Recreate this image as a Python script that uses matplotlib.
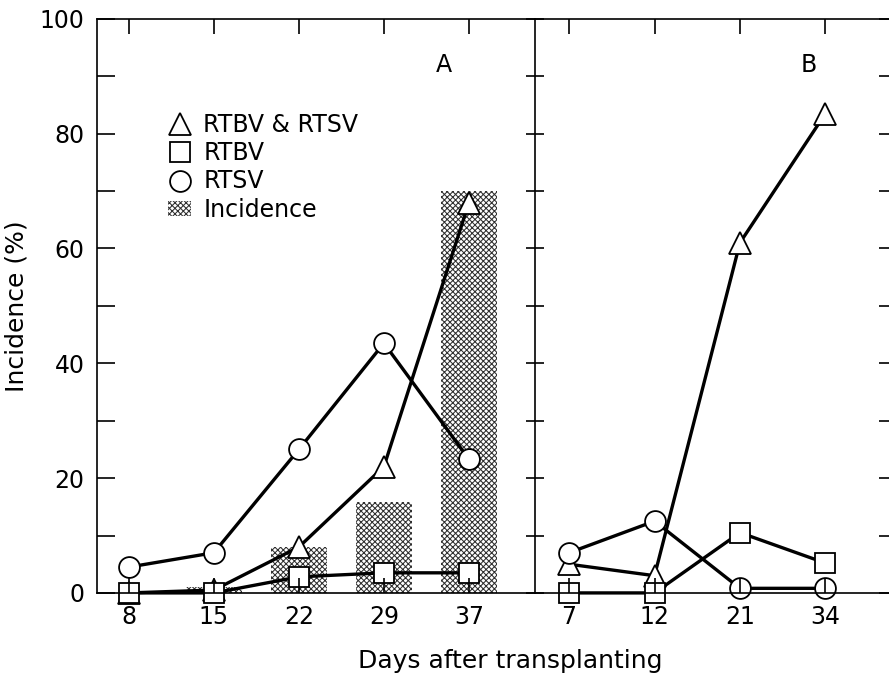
import matplotlib
matplotlib.use("Agg")
import matplotlib.pyplot as plt
from matplotlib.lines import Line2D
from matplotlib.patches import Patch

# panel A
days_a = ["8", "15", "22", "29", "37"]
both_a = [0, 0.5, 8, 22, 68]
rtbv_a = [0, 0, 2.8, 3.5, 3.5]
rtsv_a = [4.5, 7, 25, 43.5, 23.3]
incidence_a = [0, 1, 8, 15.8, 70]

# panel B
days_b = ["7", "12", "21", "34"]
both_b = [5, 3, 61, 83.5]
rtbv_b = [0, 0, 10.5, 5.2]
rtsv_b = [7, 12.5, 0.8, 0.8]

y_major = [0, 20, 40, 60, 80, 100]
y_minor = [10, 30, 50, 70, 90]

plt.rcParams["font.family"] = "DejaVu Sans"
plt.rcParams["hatch.linewidth"] = 0.75

line_kw = dict(color="black", lw=2.4, markerfacecolor="white", markeredgecolor="black",
               markeredgewidth=1.3, clip_on=False)
series = [("^", 16), ("s", 14), ("o", 15)]

fig = plt.figure(figsize=(8.89, 6.73), dpi=100)
axA = fig.add_axes([0.109, 0.119, 0.4927, 0.853])
axB = fig.add_axes([0.6017, 0.119, 0.4027, 0.853], sharey=axA)

xa = list(range(len(days_a)))
xb = list(range(len(days_b)))

axA.bar(xa, incidence_a, width=0.66, facecolor="white", edgecolor="#303030",
        hatch="xxxxxx", linewidth=0, zorder=1)
for vals, (m, ms) in zip([both_a, rtbv_a, rtsv_a], series):
    axA.plot(xa, vals, marker=m, ms=ms, **line_kw)
for vals, (m, ms) in zip([both_b, rtbv_b, rtsv_b], series):
    axB.plot(xb, vals, marker=m, ms=ms, **line_kw)

axA.set_xlim(-0.376, 4.776)
axB.set_xlim(-0.40, 3.79)
axA.set_ylim(0, 100)

for ax, labels in [(axA, days_a), (axB, days_b)]:
    ax.set_axisbelow(False)
    ax.set_xticks(range(len(labels)))
    ax.set_xticklabels(labels)
    ax.tick_params(axis="x", direction="in", top=True, length=11, width=1.2,
                   pad=9, labelsize=17)
    for sp in ax.spines.values():
        sp.set_linewidth(1.2)

axA.set_yticks(y_major)
axA.set_yticks(y_minor, minor=True)
axA.tick_params(axis="y", which="both", direction="in", length=13, width=1.2,
                pad=9, labelsize=17, right=False)
axA.spines["right"].set_visible(False)
axA.set_ylabel("Incidence (%)", fontsize=18, labelpad=8)

axB.tick_params(axis="y", which="both", direction="inout", length=13, width=1.2,
                labelleft=False)
secB = axB.secondary_yaxis("right")
secB.set_yticks(y_major + y_minor)
secB.tick_params(direction="in", length=10, width=1.2, labelright=False)

axA.text(3.7, 92, "A", fontsize=17, ha="center", va="center")
axB.text(2.8, 92, "B", fontsize=17, ha="center", va="center")

handles = [
    Line2D([], [], ls="none", marker="^", ms=16, markerfacecolor="white",
           markeredgecolor="black", markeredgewidth=1.3),
    Line2D([], [], ls="none", marker="s", ms=14, markerfacecolor="white",
           markeredgecolor="black", markeredgewidth=1.3),
    Line2D([], [], ls="none", marker="o", ms=15, markerfacecolor="white",
           markeredgecolor="black", markeredgewidth=1.3),
    Patch(facecolor="white", edgecolor="#303030", hatch="xxxxxx", linewidth=0),
]
axA.legend(handles, ["RTBV & RTSV", "RTBV", "RTSV", "Incidence"],
           loc="upper left", bbox_to_anchor=(0.162, 0.836), frameon=False,
           fontsize=17, handlelength=1.0, handleheight=0.6, handletextpad=0.5,
           labelspacing=0.18, borderpad=0, borderaxespad=0)

fig.text(0.574, 0.007, "Days after transplanting", fontsize=18, ha="center",
         va="baseline")

fig.savefig("out.png", dpi=100)
